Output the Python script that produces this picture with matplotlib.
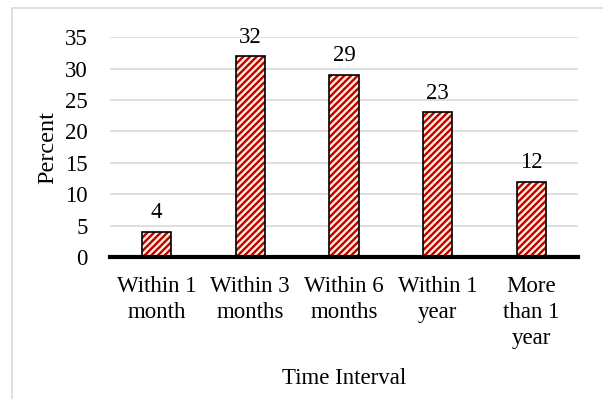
import matplotlib
matplotlib.use("Agg")
import matplotlib.pyplot as plt
from matplotlib.patches import Rectangle

categories = ["Within 1\nmonth", "Within 3\nmonths", "Within 6\nmonths",
              "Within 1\nyear", "More\nthan 1\nyear"]
percent = [4, 32, 29, 23, 12]
yticks = [0, 5, 10, 15, 20, 25, 30, 35]

FS = 16.5
plt.rcParams["font.family"] = ["Liberation Serif", "DejaVu Serif"]
plt.rcParams["hatch.linewidth"] = 1.7

fig = plt.figure(figsize=(6.03, 3.99), dpi=100)
ax = fig.add_axes([0.182, 0.356, 0.777, 0.551])

# light outer frame around the chart area
fig.patches.append(Rectangle((12 / 603, -0.1), 1.2, 1 - 8 / 399 + 0.1,
                             transform=fig.transFigure, fill=False,
                             edgecolor="#D9D9D9", linewidth=1.2, zorder=0))

x = list(range(len(categories)))
# hatched fill (hatch takes the edge colour), then a black outline on top
ax.bar(x, percent, width=0.31, facecolor="#FFF0DC", edgecolor="#C00000",
       linewidth=0, hatch="/////", zorder=3)
ax.bar(x, percent, width=0.31, facecolor="none", edgecolor="black",
       linewidth=1.2, zorder=3.5)

for xi, v in zip(x, percent):
    ax.annotate(str(v), (xi, v), xytext=(0, 6), textcoords="offset points",
                ha="center", va="bottom", fontsize=FS)

ax.set_xlim(-0.5, len(categories) - 0.5)
ax.set_ylim(0, 35)
ax.set_yticks(yticks)
ax.yaxis.grid(True, color="#D9D9D9", linewidth=1.2, zorder=0)
ax.set_axisbelow(True)
for s in ["top", "right", "left"]:
    ax.spines[s].set_visible(False)
ax.spines["bottom"].set_linewidth(3)
ax.spines["bottom"].set_zorder(4)
ax.tick_params(axis="both", length=0, labelsize=FS)
ax.tick_params(axis="y", pad=16)
ax.tick_params(axis="x", pad=14)
ax.set_xticks(x)
ax.set_xticklabels(categories, linespacing=1.3)

ax.set_ylabel("Percent", fontsize=17.5, labelpad=5)
ax.set_xlabel("Time Interval", fontsize=FS, labelpad=14)

fig.savefig("out.png", dpi=100)
